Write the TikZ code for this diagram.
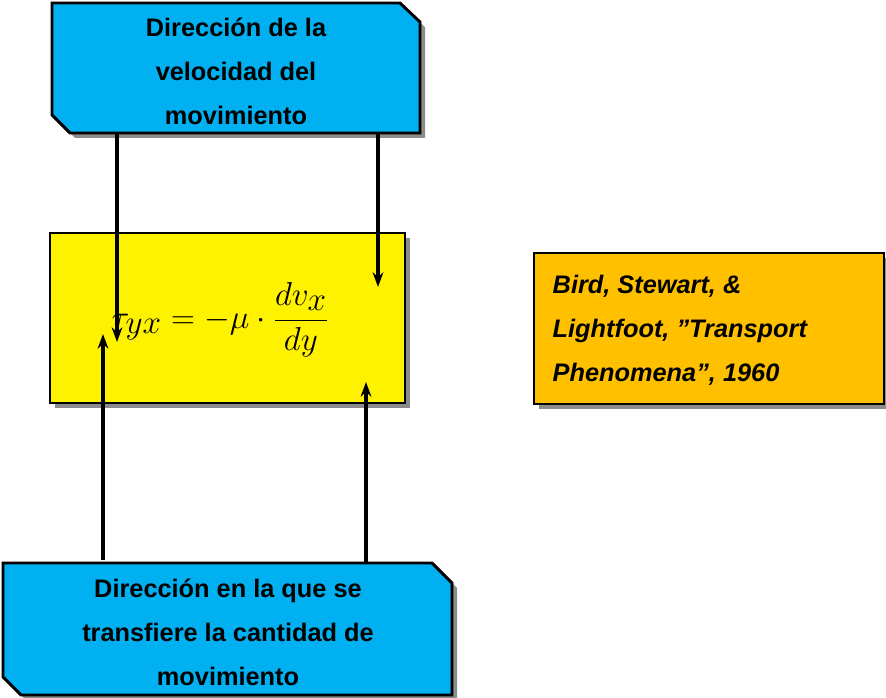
\documentclass[tikz,border=0pt]{standalone}
\usepackage{fontspec}
\setmainfont{Liberation Sans}
\usetikzlibrary{arrows.meta}
\definecolor{cyanbox}{HTML}{00B0F0}
\definecolor{orangebox}{HTML}{FFC000}
\begin{document}
\begin{tikzpicture}[x=0.75pt,y=-0.75pt,
  boxline/.style={draw=black,line width=2.2pt,line join=miter},
  shadowfill/.style={fill=black!45},
  txt/.style={font=\fontsize{19}{33}\selectfont\bfseries,align=center},
  arr/.style={line width=2.4pt,-{Stealth[length=11pt,width=8pt]}}]
\useasboundingbox (0,0) rectangle (886,698);
% shadows
\fill[shadowfill] (57,8) -- (405,8) -- (425,27) -- (425,138) -- (75,138) -- (57,120) -- cycle;
\fill[shadowfill] (55,238) rectangle (410,408);
\fill[shadowfill] (539,258) rectangle (889,409);
\fill[shadowfill] (8,568) -- (437,568) -- (457,588) -- (457,700) -- (26,700) -- (8,682) -- cycle;
% top box
\path[boxline,fill=cyanbox] (52,3) -- (400,3) -- (420,22) -- (420,133) -- (70,133) -- (52,115) -- cycle;
\node[txt] (top) at (236,71) {Dirección de la\\velocidad del\\movimiento};
% equation box
\path[boxline,fill=yellow] (50,233) rectangle (405,403);
\node (eq) at (220,320) {\fontsize{38}{44}\selectfont$\displaystyle \tau_{yx}=-\mu\cdot\frac{dv_x}{dy}$};
% orange box
\path[boxline,fill=orangebox] (534,253) rectangle (884,404);
\node[font=\fontsize{19}{33}\selectfont\bfseries\itshape,align=left,anchor=west] (ref) at (548,330) {Bird, Stewart, \&\\Lightfoot, "Transport\\Phenomena", 1960};
% bottom box
\path[boxline,fill=cyanbox] (3,563) -- (432,563) -- (452,583) -- (452,695) -- (21,695) -- (3,677) -- cycle;
\node[txt] (bot) at (228,632) {Dirección en la que se\\transfiere la cantidad de\\movimiento};
% arrows
\coordinate (t1) at (117,134); \coordinate (e1) at (117,342);
\coordinate (t2) at (378,134); \coordinate (e2) at (378,287);
\coordinate (b1) at (103,560); \coordinate (e3) at (103,334);
\coordinate (b2) at (366,563); \coordinate (e4) at (366,382);
\draw[arr] (t1) -- (e1);
\draw[arr] (t2) -- (e2);
\draw[arr] (b1) -- (e3);
\draw[arr] (b2) -- (e4);
\end{tikzpicture}
\end{document}
